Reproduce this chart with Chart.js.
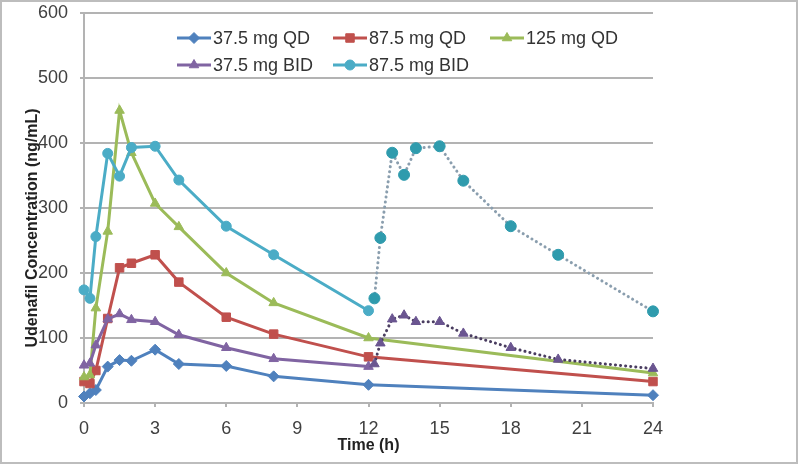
<!DOCTYPE html>
<html>
<head>
<meta charset="utf-8">
<script src="https://cdn.jsdelivr.net/npm/chart.js@4.4.1/dist/chart.umd.min.js"></script>
<style>
  html, body { margin: 0; padding: 0; background: #fff; }
  #wrap { width: 800px; height: 467px; position: relative; }
</style>
</head>
<body>
<div id="wrap"><canvas id="myChart"></canvas></div>
<script>
// data
const timeQD = [0, 0.25, 0.5, 1, 1.5, 2, 3, 4, 6, 8, 12, 24];
const qd375 = [10, 15, 20, 56, 66, 65, 82, 60, 57, 41, 28, 12];
const qd875 = [33, 30, 50, 130, 208, 215, 228, 186, 132, 106, 71, 33];
const qd125 = [40, 43, 146, 264, 450, 385, 307, 271, 200, 154, 100, 46];

const timeBID1 = [0, 0.25, 0.5, 1, 1.5, 2, 3, 4, 6, 8, 12];
const bid375 = [58, 61, 89, 129, 137, 128, 125, 105, 85, 68, 56];
const bid875 = [174, 161, 256, 384, 349, 393, 395, 343, 272, 228, 142];

const timeBID2 = [12.25, 12.5, 13, 13.5, 14, 15, 16, 18, 20, 24];
const bid375b = [60, 92, 129, 135, 125, 125, 107, 85, 67, 53];
const bid875b = [161, 254, 385, 351, 392, 395, 342, 272, 228, 141];

const xTicks = [0, 3, 6, 9, 12, 15, 18, 21, 24];
const yTicks = [0, 100, 200, 300, 400, 500, 600];

const font = "'Liberation Sans', Arial, sans-serif";

//turn two arrays into points
function pts(xs, ys) {
  return xs.map((x, i) => ({ x: x, y: ys[i] }));
}

function solid(label, xs, ys, color, style, radius, order) {
  return {
    label: label,
    data: pts(xs, ys),
    borderColor: color,
    backgroundColor: color,
    pointBorderColor: color,
    pointBackgroundColor: color,
    borderWidth: 3,
    pointStyle: style,
    pointRadius: radius,
    pointBorderWidth: 1,
    tension: 0,
    clip: false,
    order: order,
    inLegend: true
  };
}

function dotted(xs, ys, lineColor, markColor, style, radius, order) {
  return {
    label: "",
    data: pts(xs, ys),
    borderColor: lineColor,
    backgroundColor: markColor,
    pointBorderColor: markColor,
    pointBackgroundColor: markColor,
    borderWidth: 3,
    borderDash: [0.1, 5],
    borderCapStyle: "round",
    pointStyle: style,
    pointRadius: radius,
    pointBorderWidth: 1,
    tension: 0,
    clip: false,
    order: order,
    inLegend: false
  };
}

const datasets = [
  solid("37.5 mg QD", timeQD, qd375, "#4f81bd", "rectRot", 5.5, 7),
  solid("87.5 mg QD", timeQD, qd875, "#c0504d", "rect", 6, 6),
  solid("125 mg QD", timeQD, qd125, "#9bbb59", "triangle", 5.5, 5),
  solid("37.5 mg BID", timeBID1, bid375, "#8064a2", "triangle", 5.5, 4),
  solid("87.5 mg BID", timeBID1, bid875, "#4bacc6", "circle", 5, 3),
  dotted(timeBID2, bid375b, "#4a3d60", "#6a5590", "triangle", 5.5, 2),
  dotted(timeBID2, bid875b, "#8a9eae", "#2f9bad", "circle", 5.5, 1)
];

// legend drawn inside the plot, two rows like the original
const legendSpots = [[177, 38], [333, 38], [490, 38], [177, 65], [333, 65]];

const insideLegend = {
  id: "insideLegend",
  afterDraw(chart) {
    const ctx = chart.ctx;
    const items = chart.data.datasets.filter((d) => d.inLegend);
    ctx.save();
    items.forEach((d, i) => {
      const [x, y] = legendSpots[i];
      ctx.strokeStyle = d.borderColor;
      ctx.lineWidth = 3;
      ctx.beginPath();
      ctx.moveTo(x, y);
      ctx.lineTo(x + 34, y);
      ctx.stroke();
      ctx.fillStyle = d.pointBackgroundColor;
      ctx.strokeStyle = d.pointBorderColor;
      ctx.lineWidth = 1;
      Chart.helpers.drawPoint(ctx, { pointStyle: d.pointStyle, radius: d.pointRadius, rotation: 0, borderWidth: 1 }, x + 17, y);
      ctx.fillStyle = "#333";
      ctx.font = "18px " + font;
      ctx.textAlign = "left";
      ctx.textBaseline = "middle";
      ctx.fillText(d.label, x + 36, y + 1);
    });
    ctx.restore();
  }
};

// frame round the picture and the y title
const frame = {
  id: "frame",
  afterDraw(chart) {
    const ctx = chart.ctx;
    ctx.save();
    ctx.strokeStyle = "#bdbdbd";
    ctx.lineWidth = 2;
    ctx.strokeRect(1, 1, 796, 462);
    ctx.translate(33, 228);
    ctx.rotate(-Math.PI / 2);
    ctx.fillStyle = "#222";
    ctx.font = "bold 16px " + font;
    ctx.textAlign = "center";
    ctx.textBaseline = "middle";
    ctx.fillText("Udenafil Concentration (ng/mL)", 0, 0);
    ctx.restore();
  }
};

const config = {
  type: "line",
  data: { datasets },
  options: {
    responsive: true,
    maintainAspectRatio: false,
    animation: false,
    layout: { padding: { left: 0, right: 147, top: 13, bottom: 0 } },
    plugins: {
      legend: { display: false },
      tooltip: { enabled: false }
    },
    scales: {
      x: {
        type: "linear",
        min: 0,
        max: 24,
        afterBuildTicks: (s) => { s.ticks = xTicks.map((v) => ({ value: v })); },
        afterFit: (s) => { s.height = 64; s.paddingLeft = 0; s.paddingRight = 0; },
        ticks: { color: "#404040", font: { family: font, size: 18 }, padding: 11 },
        grid: { drawOnChartArea: false, color: "#b3b3b3", lineWidth: 2, tickLength: 4 },
        border: { color: "#b3b3b3", width: 2 },
        title: {
          display: true,
          text: "Time (h)",
          color: "#222",
          font: { family: font, size: 16, weight: "bold" },
          padding: { top: 0, bottom: 12 }
        }
      },
      y: {
        min: 0,
        max: 600,
        afterBuildTicks: (s) => { s.ticks = yTicks.map((v) => ({ value: v })); },
        afterFit: (s) => { s.width = 84; s.paddingTop = 0; s.paddingBottom = 0; },
        ticks: { color: "#404040", font: { family: font, size: 18 }, padding: 12 },
        grid: { color: "#b3b3b3", lineWidth: 2, tickLength: 4 },
        border: { color: "#b3b3b3", width: 2 }
      }
    }
  },
  plugins: [insideLegend, frame]
};

const chart = document.getElementById("myChart");
chart.style.backgroundColor = "white";
const myChart = new Chart(chart, config);
</script>
</body>
</html>
